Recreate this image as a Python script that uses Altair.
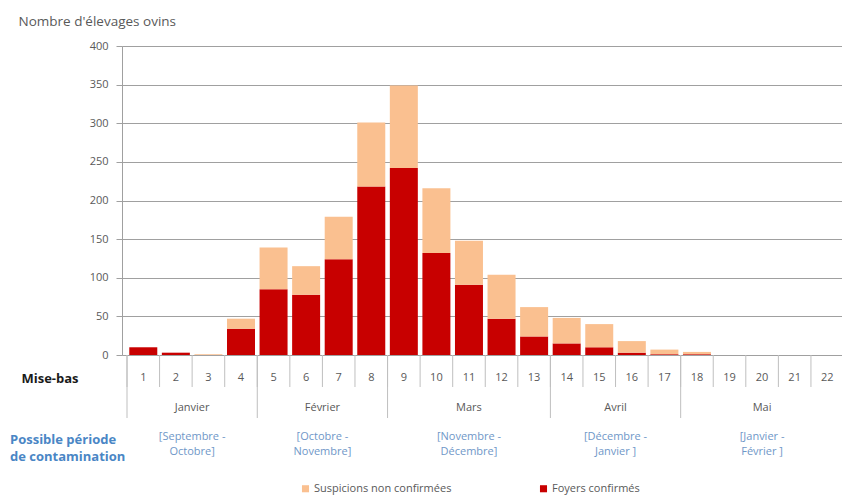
import altair as alt
import pandas as pd

# ---- data ----
weeks = list(range(1, 23))
week_labels = [str(w) for w in weeks]
foyers = [10, 3, 0, 34, 85, 78, 124, 218, 242, 132, 91, 47, 24, 15, 10, 3, 1, 1, 0, 0, 0, 0]
suspicions = [0, 0, 1, 13, 54, 37, 55, 83, 107, 84, 57, 57, 38, 33, 30, 15, 6, 3, 0, 0, 0, 0]
series_names = ["Suspicions non confirmées", "Foyers confirmés"]
series_colors = ["#FAC090", "#C80000"]
months = ["Janvier", "Février", "Mars", "Avril", "Mai"]
month_first = [1, 5, 9, 14, 18]
month_last = [4, 8, 13, 17, 22]
contamination = ["[Septembre -\nOctobre]", "[Octobre -\nNovembre]", "[Novembre -\nDécembre]",
                 "[Décembre -\nJanvier ]", "[Janvier -\nFévrier ]"]
y_ticks = list(range(0, 401, 50))

FONT = "Open Sans"
GREY = "#595959"
LINE = "#A0A0A0"
SEP = "#BFBFBF"
BLUE = "#4A86C5"
LIGHTBLUE = "#6F97C8"

W = 720
H = 309

bars_df = pd.DataFrame({
    "week": weeks * 2,
    "type": [series_names[1]] * len(weeks) + [series_names[0]] * len(weeks),
    "value": foyers + suspicions,
    "ord": [0] * len(weeks) + [1] * len(weeks),
})
weeks_df = pd.DataFrame({"week": weeks, "label": week_labels})
months_df = pd.DataFrame({"month": months, "first": month_first, "last": month_last,
                          "contam": contamination})

xscale = alt.Scale(domain=[0.5, 22.3], nice=False, zero=False)

bars = alt.Chart(bars_df).mark_bar(size=28).encode(
    x=alt.X("week:Q", scale=xscale, axis=None),
    y=alt.Y("value:Q", stack="zero", scale=alt.Scale(domain=[0, 400], nice=False),
            axis=alt.Axis(values=y_ticks, format="d", title="Nombre d'élevages ovins",
                          titleAngle=0, titleAlign="left", titleBaseline="middle",
                          titleX=-104, titleY=-25, titleFont=FONT, titleFontSize=13.5,
                          titleFontWeight="normal", titleColor=GREY,
                          labelFont=FONT, labelFontSize=11, labelColor=GREY,
                          labelPadding=8, tickSize=6, tickColor=LINE,
                          domainColor=LINE, gridColor=LINE)),
    color=alt.Color("type:N", scale=alt.Scale(domain=series_names, range=series_colors),
                    legend=alt.Legend(title=None, orient="none", direction="horizontal",
                                      legendX=178, legendY=437, symbolType="square",
                                      symbolSize=50, symbolStrokeWidth=0,
                                      labelFont=FONT, labelFontSize=11, labelColor=GREY,
                                      columnPadding=86, labelOffset=3, labelLimit=300)),
    order=alt.Order("ord:Q"),
)

short_sep = alt.Chart(weeks_df).transform_calculate(b="datum.week - 0.5").mark_rule(
    color=SEP, strokeWidth=1).encode(
    x=alt.X("b:Q", scale=xscale), y=alt.value(H), y2=alt.value(H + 32))

long_sep = alt.Chart(months_df).transform_calculate(b="datum.first - 0.5").mark_rule(
    color=SEP, strokeWidth=1).encode(
    x=alt.X("b:Q", scale=xscale), y=alt.value(H), y2=alt.value(H + 63))

week_text = alt.Chart(weeks_df).mark_text(font=FONT, fontSize=11, color=GREY,
                                          baseline="middle").encode(
    x=alt.X("week:Q", scale=xscale), y=alt.value(H + 23), text="label:N")

month_text = alt.Chart(months_df).transform_calculate(
    mid="(datum.first + datum.last) / 2").mark_text(
    font=FONT, fontSize=11, color=GREY, baseline="middle").encode(
    x=alt.X("mid:Q", scale=xscale), y=alt.value(H + 53), text="month:N")

contam_text = alt.Chart(months_df).transform_calculate(
    mid="(datum.first + datum.last) / 2").mark_text(
    font=FONT, fontSize=11, color=LIGHTBLUE, baseline="middle", lineBreak="\n",
    lineHeight=15).encode(
    x=alt.X("mid:Q", scale=xscale), y=alt.value(H + 82), text="contam:N")

left_df = pd.DataFrame({"t": ["Mise-bas"]})
misebas = alt.Chart(left_df).mark_text(font=FONT, fontSize=13, fontWeight="bold",
                                       color="#1a1a1a", align="center",
                                       baseline="middle").encode(
    x=alt.value(-72), y=alt.value(H + 24), text="t:N")

left2_df = pd.DataFrame({"t": ["Possible période\nde contamination"]})
possible = alt.Chart(left2_df).mark_text(font=FONT, fontSize=13, fontWeight="bold",
                                         color=BLUE, align="left", baseline="middle",
                                         lineBreak="\n", lineHeight=17).encode(
    x=alt.value(-112), y=alt.value(H + 85), text="t:N")

chart = alt.layer(bars, short_sep, long_sep, week_text, month_text, contam_text,
                  misebas, possible).properties(
    width=W, height=H,
    autosize=alt.AutoSizeParams(type="none"),
    padding={"left": 114, "top": 38, "right": 0, "bottom": 142},
).configure_view(stroke=None).configure(font=FONT, background="white")

chart.save("out.html", embed_options={"renderer": "svg", "actions": False})
